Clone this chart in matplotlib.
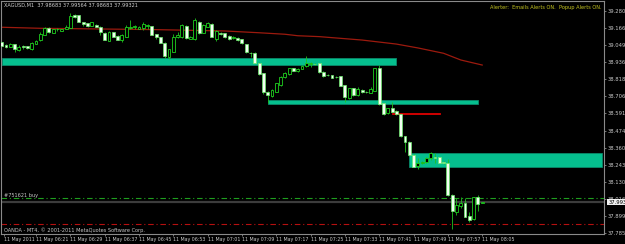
import matplotlib
matplotlib.use('Agg')
import matplotlib.pyplot as plt
from matplotlib.patches import Rectangle
import numpy as np

# ---------------- data (XAGUSD M1, 11 May 2011) ----------------
opens = [39.068, 39.050, 39.038, 39.054, 39.016, 39.040, 39.041, 39.021, 39.058, 39.083,
         39.119, 39.164, 39.133, 39.156, 39.146, 39.159, 39.166, 39.251, 39.251, 39.204,
         39.196, 39.180, 39.186, 39.173, 39.133, 39.079, 39.137, 39.110, 39.083, 39.105,
         39.162, 39.169, 39.159, 39.164, 39.177, 39.175, 39.122, 39.102, 39.065, 38.971,
         39.005, 39.102, 39.102, 39.177, 39.092, 39.088, 39.206, 39.133, 39.173, 39.191,
         39.088, 39.130, 39.128, 39.110, 39.100, 39.099, 39.088, 39.054, 38.999, 38.994,
         38.931, 38.859, 38.736, 38.707, 38.736, 38.781, 38.833, 38.853, 38.893, 38.875,
         38.890, 38.909, 38.925, 38.925, 38.927, 38.870, 38.850, 38.848, 38.836, 38.841,
         38.781, 38.691, 38.759, 38.714, 38.747, 38.735, 38.729, 38.743, 38.893, 38.658,
         38.590, 38.624, 38.608, 38.586, 38.438, 38.400, 38.310, 38.236, 38.254, 38.265,
         38.288, 38.299, 38.297, 38.263, 38.254, 38.041, 37.929, 37.967, 37.990, 37.900,
         37.878, 38.030, 37.987]
highs = [39.073, 39.056, 39.063, 39.056, 39.050, 39.048, 39.043, 39.070, 39.080, 39.135,
         39.171, 39.169, 39.159, 39.164, 39.157, 39.184, 39.263, 39.255, 39.253, 39.206,
         39.200, 39.206, 39.189, 39.175, 39.135, 39.142, 39.140, 39.114, 39.122, 39.182,
         39.218, 39.186, 39.177, 39.206, 39.191, 39.180, 39.126, 39.104, 39.070, 39.025,
         39.122, 39.139, 39.189, 39.182, 39.110, 39.229, 39.211, 39.191, 39.204, 39.196,
         39.151, 39.137, 39.130, 39.114, 39.110, 39.104, 39.090, 39.056, 39.005, 39.005,
         38.935, 38.861, 38.740, 38.754, 38.794, 38.841, 38.870, 38.895, 38.895, 38.895,
         38.915, 38.976, 38.935, 38.931, 38.931, 38.875, 38.855, 38.850, 38.839, 38.843,
         38.783, 38.763, 38.761, 38.769, 38.751, 38.740, 38.765, 38.895, 38.915, 38.660,
         38.628, 38.667, 38.613, 38.589, 38.441, 38.404, 38.314, 38.288, 38.270, 38.294,
         38.332, 38.326, 38.300, 38.272, 38.281, 38.045, 38.019, 38.030, 38.019, 37.929,
         38.030, 38.041, 37.996]
lows = [39.040, 39.030, 39.033, 39.003, 39.009, 39.025, 39.023, 39.016, 39.056, 39.079,
        39.115, 39.133, 39.130, 39.146, 39.144, 39.157, 39.164, 39.234, 39.202, 39.177,
        39.174, 39.177, 39.169, 39.119, 39.080, 39.074, 39.102, 39.081, 39.068, 39.102,
        39.157, 39.155, 39.155, 39.151, 39.155, 39.115, 39.088, 39.061, 38.960, 38.954,
        39.001, 39.097, 39.097, 39.090, 39.087, 39.083, 39.124, 39.128, 39.169, 39.102,
        39.079, 39.117, 39.097, 39.083, 39.090, 39.079, 39.056, 38.996, 38.971, 38.927,
        38.848, 38.718, 38.658, 38.700, 38.732, 38.776, 38.826, 38.848, 38.873, 38.870,
        38.886, 38.904, 38.904, 38.915, 38.861, 38.837, 38.841, 38.826, 38.828, 38.772,
        38.669, 38.687, 38.709, 38.709, 38.727, 38.727, 38.725, 38.739, 38.648, 38.581,
        38.586, 38.597, 38.581, 38.433, 38.332, 38.305, 38.227, 38.214, 38.250, 38.258,
        38.277, 38.254, 38.254, 38.250, 38.037, 37.811, 37.907, 37.952, 37.891, 37.862,
        37.873, 37.936, 37.987]
closes = [39.045, 39.034, 39.058, 39.025, 39.038, 39.038, 39.028, 39.065, 39.077, 39.122,
          39.162, 39.137, 39.155, 39.159, 39.155, 39.171, 39.245, 39.240, 39.206, 39.189,
          39.177, 39.202, 39.173, 39.135, 39.083, 39.137, 39.105, 39.085, 39.117, 39.173,
          39.173, 39.177, 39.173, 39.191, 39.184, 39.119, 39.105, 39.065, 38.976, 39.021,
          39.105, 39.119, 39.184, 39.095, 39.105, 39.218, 39.128, 39.184, 39.196, 39.105,
          39.146, 39.124, 39.102, 39.088, 39.102, 39.083, 39.061, 39.001, 38.996, 38.931,
          38.853, 38.736, 38.714, 38.747, 38.792, 38.837, 38.859, 38.893, 38.877, 38.890,
          38.911, 38.927, 38.927, 38.923, 38.866, 38.841, 38.848, 38.830, 38.833, 38.776,
          38.698, 38.759, 38.714, 38.752, 38.732, 38.734, 38.752, 38.893, 38.653, 38.586,
          38.624, 38.601, 38.586, 38.438, 38.400, 38.310, 38.232, 38.254, 38.265, 38.288,
          38.322, 38.288, 38.258, 38.258, 38.041, 37.934, 37.974, 37.990, 37.895, 37.873,
          38.026, 37.981, 37.993]
first_bar = -1

ma_bars = [-1, 8, 35, 51, 59, 65, 68, 73, 83, 91, 96, 102, 106, 111]
ma_values = [39.169, 39.162, 39.153, 39.144, 39.132, 39.122, 39.112, 39.106,
             39.083, 39.056, 39.030, 38.994, 38.949, 38.915]

zone_start = [-0.93, 61.0, 93.9]
zone_end = [91.0, 110.0, 138.9]
zone_low = [38.915, 38.651, 38.232]
zone_high = [38.960, 38.680, 38.326]

order_price = 38.019
stop_price = 37.846
bid_price = 37.99321
level_price = 38.584
level_start, level_end = 90.2, 101.2

time_ticks = [-0.5, 7, 15, 23, 31, 39, 47, 55, 63, 71, 79, 87, 95, 103, 111]
time_labels = ["11 May 2011", "11 May 06:21", "11 May 06:29", "11 May 06:37",
               "11 May 06:45", "11 May 06:53", "11 May 07:01", "11 May 07:09",
               "11 May 07:17", "11 May 07:25", "11 May 07:33", "11 May 07:41",
               "11 May 07:49", "11 May 07:57", "11 May 08:05"]
price_ticks = [39.2803, 39.1667, 39.0495, 38.9360, 38.8188, 38.7062, 38.5916,
               38.4745, 38.3605, 38.2437, 38.1301, 38.0165, 37.8994, 37.7858]

# ---------------- figure ----------------
W, H = 625, 244
fig = plt.figure(figsize=(W / 100, H / 100), dpi=100, facecolor='black')
ax_l, ax_r, ax_t, ax_b = 1.0, 604.0, 1.0, 233.5
ax = fig.add_axes([ax_l / W, 1 - ax_b / H, (ax_r - ax_l) / W, (ax_b - ax_t) / H])
ax.set_facecolor('black')

px0, pxstep = 6.0, 4.29
ax.set_xlim((ax_l - px0) / pxstep, (ax_r - px0) / pxstep)
ax.set_ylim(37.7824, 39.3455)

# zones
for xs, xe, lo, hi in zip(zone_start, zone_end, zone_low, zone_high):
    ax.add_patch(Rectangle((xs, lo), xe - xs, hi - lo, facecolor='#05BF8E',
                           edgecolor='#0A8A6A', linewidth=0.6, zorder=1))

# moving average
ax.plot(ma_bars, ma_values, color='#9C1A0E', linewidth=0.9, zorder=1.5)

# horizontal lines
ax.axhline(order_price, color='#1E9E1E', linewidth=0.8, dashes=(5, 2.5, 1, 2.5), zorder=1.2)
ax.axhline(bid_price, color='#3C3C3C', linewidth=1.6, zorder=1.1)
ax.axhline(stop_price, color='#B51010', linewidth=0.8, dashes=(5, 2.5, 1, 2.5), zorder=1.2)
ax.plot([level_start, level_end], [level_price, level_price], color='#E00000',
        linewidth=1.3, zorder=1.3)

# candles
x = np.arange(first_bar, first_bar + len(opens))
o = np.array(opens); c = np.array(closes)
ax.vlines(x, lows, highs, color='#1FC21F', linewidth=0.6, zorder=2)
bull = c >= o
bw = 0.68
ax.bar(x[bull], np.abs(c - o)[bull], bottom=np.minimum(o, c)[bull], width=bw,
       color='black', edgecolor='#1FD01F', linewidth=0.6, zorder=3)
ax.bar(x[~bull], np.abs(c - o)[~bull], bottom=np.minimum(o, c)[~bull], width=bw,
       color='#F2FFF2', edgecolor='#6BEB6B', linewidth=0.5, zorder=3)

# axes styling
for s in ['left', 'top', 'right', 'bottom']:
    ax.spines[s].set_color('#8A8A8A')
    ax.spines[s].set_linewidth(0.8)
ax.yaxis.tick_right()
ax.set_yticks(price_ticks)
ax.set_yticklabels([f"{v:.4f}" for v in price_ticks])
ax.tick_params(axis='y', colors='#8A8A8A', labelcolor='#C8C8C8', labelsize=3.8,
               length=1.5, width=0.6, pad=1.2, direction='out')
ax.set_xticks(time_ticks)
ax.set_xticklabels(time_labels, ha='left')
ax.tick_params(axis='x', colors='#8A8A8A', labelcolor='#C8C8C8', labelsize=3.4,
               length=1.5, width=0.6, pad=1.0, direction='out')

# bid price box
ax.annotate(f"{bid_price:.4f}", xy=(1.0, bid_price), xycoords=('axes fraction', 'data'),
            xytext=(3.0, 0), textcoords='offset points', ha='left', va='center',
            fontsize=3.8, color='black', annotation_clip=False, zorder=10,
            bbox=dict(boxstyle='square,pad=0.15', facecolor='#F0F0F0', edgecolor='none'))

def ftext(px, py, s, **kw):
    fig.text(px / W, 1 - py / H, s, **kw)

ftext(4, 5.5, "XAGUSD,M1  37.98683 37.99564 37.98683 37.99321", fontsize=3.6,
      color='#D0D0D0', va='center', ha='left')
ftext(601.5, 7.7, "Alerter:  Emails Alerts ON.  Popup Alerts ON.", fontsize=3.6,
      color='#C8C820', va='center', ha='right')
ftext(4, 195.5, "#751621 buy", fontsize=3.6, color='#C8C8C8', va='center', ha='left')
ftext(4, 229.8, "OANDA - MT4, \u00a9 2001-2011 MetaQuotes Software Corp.", fontsize=3.6,
      color='#C8C8C8', va='center', ha='left')

fig.savefig('out.png', dpi=100, facecolor='black')
